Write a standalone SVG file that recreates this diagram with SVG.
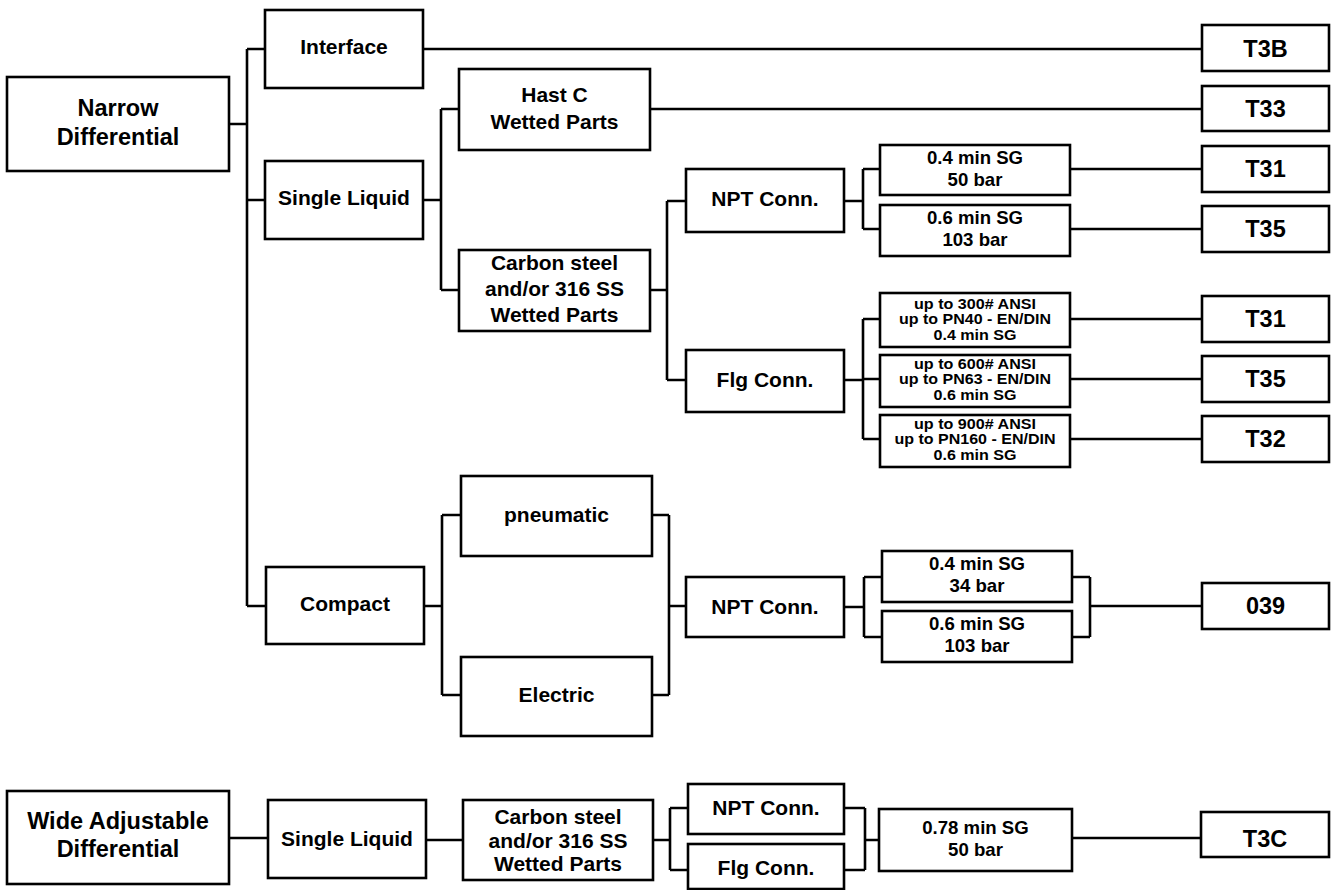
<svg xmlns="http://www.w3.org/2000/svg" width="1337" height="890" viewBox="0 0 1337 890">
<style>
rect{fill:#fff;stroke:#000;stroke-width:2.6}
.c path{fill:none;stroke:#000;stroke-width:2.6}
text{font-family:"Liberation Sans",Arial,Helvetica,sans-serif;font-weight:bold;text-anchor:middle;fill:#000}
.f23{font-size:23.5px}
.f21{font-size:21px}
.f19{font-size:18.6px}
.f16{font-size:14px}
</style>
<rect x="0" y="0" width="1337" height="890" style="stroke:none;fill:#fff"/>
<g class="c" id="connectors">
<path d="M229 124H247M247 49V606M247 49H265M247 200H265M247 606H266"/>
<path d="M423 49H1202"/>
<path d="M423 200H441M441 109V290M441 109H459M441 290H459"/>
<path d="M650 109H1202"/>
<path d="M650 290H667M667 201V380M667 201H686M667 380H686"/>
<path d="M844 201H863M863 169V229M863 169H880M863 229H880"/>
<path d="M1070 169H1202M1070 229H1202"/>
<path d="M844 380H863M863 319V439M863 319H880M863 379H880M863 439H880"/>
<path d="M1070 319H1202M1070 379H1202M1070 439H1202"/>
<path d="M424 606H442M442 515V695M442 515H461M442 695H461"/>
<path d="M652 515H669M669 515V695M652 695H669M669 606H686"/>
<path d="M844 607H864M864 577V637M864 577H882M864 637H882"/>
<path d="M1072 577H1090M1072 637H1090M1090 577V637M1090 606H1202"/>
<path d="M229 838H268M426 840H463"/>
<path d="M653 840H670M670 808V870M670 808H688M670 870H688"/>
<path d="M844 808H865M844 870H865M865 808V870M865 840H879"/>
<path d="M1072 838H1201"/>
</g>
<g id="n-narrow"><rect x="7" y="77" width="222" height="94"/><text class="f23" x="118" y="116">Narrow</text><text class="f23" x="118" y="144.5">Differential</text></g>
<g id="n-interface"><rect x="265" y="10" width="158" height="78"/><text class="f21" x="344" y="54">Interface</text></g>
<g id="n-single"><rect x="265" y="161" width="158" height="78"/><text class="f21" x="344" y="205">Single Liquid</text></g>
<g id="n-compact"><rect x="266" y="567" width="158" height="77"/><text class="f21" x="345" y="611">Compact</text></g>
<g id="n-hastc"><rect x="459" y="69" width="191" height="81"/><text class="f21" x="554.5" y="101.7">Hast C</text><text class="f21" x="554.5" y="128.7">Wetted Parts</text></g>
<g id="n-carbon"><rect x="459" y="250" width="191" height="81"/><text class="f21" x="554.5" y="269.5">Carbon steel</text><text class="f21" x="554.5" y="296">and/or 316 SS</text><text class="f21" x="554.5" y="321.7">Wetted Parts</text></g>
<g id="n-npt1"><rect x="686" y="169" width="158" height="63"/><text class="f21" x="765" y="206">NPT Conn.</text></g>
<g id="n-flg1"><rect x="686" y="350" width="158" height="62"/><text class="f21" x="765" y="387">Flg Conn.</text></g>
<g id="n-sg04-50"><rect x="880" y="145" width="190" height="50"/><text class="f19" x="975" y="164">0.4 min SG</text><text class="f19" x="975" y="186">50 bar</text></g>
<g id="n-sg06-103"><rect x="880" y="205" width="190" height="51"/><text class="f19" x="975" y="223.5">0.6 min SG</text><text class="f19" x="975" y="245.5">103 bar</text></g>
<g id="n-flg300"><rect x="880" y="293" width="190" height="54"/><text class="f16" x="975" y="308.5" textLength="122" lengthAdjust="spacingAndGlyphs">up to 300# ANSI</text><text class="f16" x="975" y="324" textLength="152" lengthAdjust="spacingAndGlyphs">up to PN40 - EN/DIN</text><text class="f16" x="975" y="339.5" textLength="83" lengthAdjust="spacingAndGlyphs">0.4 min SG</text></g>
<g id="n-flg600"><rect x="880" y="355" width="190" height="52"/><text class="f16" x="975" y="368.5" textLength="122" lengthAdjust="spacingAndGlyphs">up to 600# ANSI</text><text class="f16" x="975" y="384" textLength="152" lengthAdjust="spacingAndGlyphs">up to PN63 - EN/DIN</text><text class="f16" x="975" y="399.5" textLength="83" lengthAdjust="spacingAndGlyphs">0.6 min SG</text></g>
<g id="n-flg900"><rect x="880" y="415" width="190" height="52"/><text class="f16" x="975" y="428.5" textLength="122" lengthAdjust="spacingAndGlyphs">up to 900# ANSI</text><text class="f16" x="975" y="444" textLength="161" lengthAdjust="spacingAndGlyphs">up to PN160 - EN/DIN</text><text class="f16" x="975" y="459.5" textLength="83" lengthAdjust="spacingAndGlyphs">0.6 min SG</text></g>
<g id="n-t3b"><rect x="1202" y="25" width="127" height="46"/><text class="f23" x="1265.5" y="56.5">T3B</text></g>
<g id="n-t33"><rect x="1202" y="86" width="127" height="45"/><text class="f23" x="1265.5" y="116.5">T33</text></g>
<g id="n-t31a"><rect x="1202" y="146" width="127" height="46"/><text class="f23" x="1265.5" y="177">T31</text></g>
<g id="n-t35a"><rect x="1202" y="206" width="127" height="46"/><text class="f23" x="1265.5" y="237">T35</text></g>
<g id="n-t31b"><rect x="1202" y="296" width="127" height="46"/><text class="f23" x="1265.5" y="327">T31</text></g>
<g id="n-t35b"><rect x="1202" y="356" width="127" height="46"/><text class="f23" x="1265.5" y="387">T35</text></g>
<g id="n-t32"><rect x="1202" y="416" width="127" height="46"/><text class="f23" x="1265.5" y="447">T32</text></g>
<g id="n-pneumatic"><rect x="461" y="476" width="191" height="80"/><text class="f21" x="556.5" y="521.5">pneumatic</text></g>
<g id="n-electric"><rect x="461" y="657" width="191" height="79"/><text class="f21" x="556.5" y="702">Electric</text></g>
<g id="n-npt2"><rect x="686" y="577" width="158" height="60"/><text class="f21" x="765" y="614">NPT Conn.</text></g>
<g id="n-sg04-34"><rect x="882" y="551" width="190" height="51"/><text class="f19" x="977" y="570">0.4 min SG</text><text class="f19" x="977" y="592">34 bar</text></g>
<g id="n-sg06-103b"><rect x="882" y="611" width="190" height="51"/><text class="f19" x="977" y="630">0.6 min SG</text><text class="f19" x="977" y="652">103 bar</text></g>
<g id="n-039"><rect x="1202" y="583" width="127" height="46"/><text class="f23" x="1265.5" y="614">039</text></g>
<g id="n-wide"><rect x="7" y="791" width="222" height="93"/><text class="f23" x="118" y="828.5">Wide Adjustable</text><text class="f23" x="118" y="857">Differential</text></g>
<g id="n-single2"><rect x="268" y="800" width="158" height="78"/><text class="f21" x="347" y="846">Single Liquid</text></g>
<g id="n-carbon2"><rect x="463" y="800" width="190" height="80"/><text class="f21" x="558" y="823.5">Carbon steel</text><text class="f21" x="558" y="847.5">and/or 316 SS</text><text class="f21" x="558" y="871">Wetted Parts</text></g>
<g id="n-npt3"><rect x="688" y="784" width="156" height="50"/><text class="f21" x="766" y="814.5">NPT Conn.</text></g>
<g id="n-flg3"><rect x="688" y="844" width="156" height="45"/><text class="f21" x="766" y="875">Flg Conn.</text></g>
<g id="n-sg078"><rect x="879" y="809" width="193" height="62"/><text class="f19" x="975.5" y="834">0.78 min SG</text><text class="f19" x="975.5" y="856">50 bar</text></g>
<g id="n-t3c"><rect x="1201" y="812" width="128" height="45"/><text class="f23" x="1265" y="847">T3C</text></g>
</svg>
